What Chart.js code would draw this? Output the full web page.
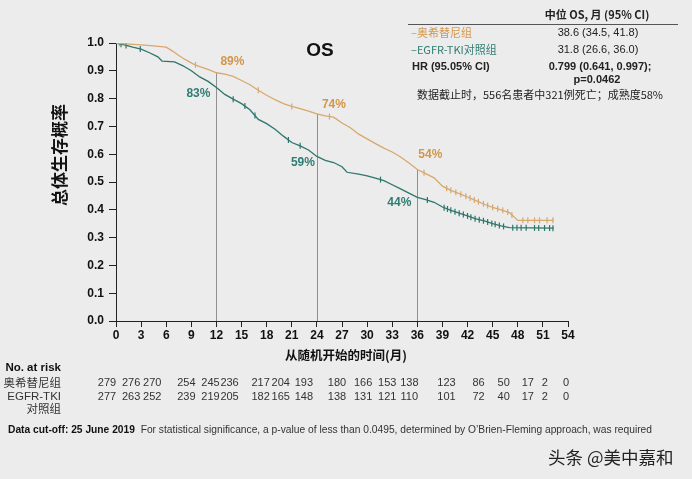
<!DOCTYPE html>
<html><head><meta charset="utf-8">
<script src="https://cdn.jsdelivr.net/npm/chart.js@4"></script>
<style>html,body{margin:0;padding:0;background:#ececec;}canvas{display:block;}</style>
</head><body>
<canvas id="c" width="692" height="479"></canvas>
<script>
// ---------- data ----------
const osiTime = [0, 1.5, 3, 4.5, 6, 6.8, 7.5, 8.3, 9.2, 10, 11, 12, 13, 14, 15, 16, 17, 18, 19, 20, 21, 22, 23, 24, 25, 26, 27, 28, 29, 30, 31, 32, 33, 34, 35, 36, 37, 38, 39, 40, 41, 42, 43, 44, 45, 46, 47, 48, 52.3];
const osiSurv = [1.0, 0.996, 0.993, 0.99, 0.985, 0.97, 0.955, 0.94, 0.925, 0.915, 0.905, 0.893, 0.888, 0.88, 0.865, 0.85, 0.83, 0.812, 0.796, 0.782, 0.772, 0.764, 0.755, 0.745, 0.738, 0.733, 0.712, 0.695, 0.672, 0.655, 0.638, 0.622, 0.608, 0.59, 0.568, 0.545, 0.53, 0.515, 0.485, 0.47, 0.458, 0.446, 0.433, 0.42, 0.409, 0.4, 0.39, 0.362, 0.362];
const ctlTime = [0, 1, 2, 3, 4, 5, 5.5, 7, 8, 9, 10, 11, 12, 13, 14, 15, 16, 17, 18, 19, 20, 21, 22, 23, 24, 25, 26, 27, 27.6, 29, 30, 31, 32, 33, 34, 35, 36, 37, 38, 39, 40, 41, 42, 43, 44, 45, 46, 47, 52.3];
const ctlSurv = [1.0, 0.993, 0.985, 0.978, 0.965, 0.95, 0.935, 0.932, 0.918, 0.9, 0.878, 0.862, 0.84, 0.815, 0.798, 0.782, 0.76, 0.725, 0.71, 0.69, 0.665, 0.642, 0.63, 0.615, 0.592, 0.578, 0.57, 0.555, 0.535, 0.528, 0.522, 0.514, 0.505, 0.49, 0.475, 0.46, 0.445, 0.437, 0.427, 0.41, 0.398, 0.388, 0.378, 0.367, 0.36, 0.35, 0.342, 0.336, 0.334];
const osiCensor = [0.4, 9.5, 17, 21, 25.5, 36.8, 39.5, 40, 40.6, 41.2, 41.8, 42.3, 42.8, 43.3, 43.9, 44.4, 45, 45.6, 46.2, 46.8, 47.3, 48.6, 49.2, 50, 50.6, 51.5, 52.2];
const ctlCensor = [0.6, 1.2, 2.9, 14, 15.4, 16.6, 20.6, 22, 31.6, 37.2, 39.2, 39.6, 40, 40.5, 41, 41.5, 42, 42.4, 42.9, 43.4, 43.9, 44.4, 44.9, 45.3, 45.8, 46.3, 47.4, 47.9, 48.4, 49, 50, 50.5, 51.2, 51.8, 52.2];
const markMonths = [12, 24, 36];
const osiMarkLabels = ['89%', '74%', '54%'];
const ctlMarkLabels = ['83%', '59%', '44%'];
const riskMonths = [0, 3, 6, 9, 12, 15, 18, 21, 24, 27, 30, 33, 36, 39, 42, 45, 48, 51, 54];
const osiRisk = [279, 276, 270, 254, 245, 236, 217, 204, 193, 180, 166, 153, 138, 123, 86, 50, 17, 2, 0];
const ctlRisk = [277, 263, 252, 239, 219, 205, 182, 165, 148, 138, 131, 121, 110, 101, 72, 40, 17, 2, 0];
const groupNames = ['奥希替尼组', 'EGFR-TKI对照组'];
const medianText = ['38.6 (34.5, 41.8)', '31.8 (26.6, 36.0)'];

// ---------- style ----------
const ORANGE = '#d8a86e';
const ORANGE_TXT = '#d4964a';
const TEAL = '#2c766c';
const TEAL_TXT = '#2f7c72';
const SANS = '"Liberation Sans", Arial, sans-serif';
const CJK = '"Noto Sans CJK SC", "Liberation Sans", sans-serif';

function survAt(times, surv, t) {
  let v = surv[0];
  for (let i = 0; i < times.length; i++) { if (times[i] <= t) v = surv[i]; }
  return v;
}
function survLin(times, surv, t) {
  for (let i = 1; i < times.length; i++) {
    if (times[i] >= t) { const f = (t - times[i-1]) / (times[i] - times[i-1]); return surv[i-1] + f * (surv[i] - surv[i-1]); }
  }
  return surv[surv.length - 1];
}
const curve = (T, S) => T.map((t, i) => ({x: t, y: S[i]}));
const censorPts = (C, T, S) => C.map(t => ({x: t, y: survLin(T, S, t)}));

// label offsets (px) relative to reference line / curve point
const osiLabelOff = [[16, -11], [17, -9], [13, -15]];
const ctlLabelOff = [[-18, 6], [-14, 6], [-18, 5]];
const riskDx = [-9, -10, -14, -5, -6, -12, -6, -11, -13, -5, -4, -5, -8, 4, 11, 11, 10, 2, -2];

const decor = {
  id: 'decor',
  beforeDraw(chart) {
    const c = chart.ctx;
    c.save(); c.fillStyle = '#ececec'; c.fillRect(0, 0, chart.width, chart.height); c.restore();
  },
  beforeDatasetsDraw(chart) {
    const c = chart.ctx, xs = chart.scales.x, ys = chart.scales.y;
    c.save();
    c.strokeStyle = '#8f8f8f'; c.lineWidth = 1;
    markMonths.forEach(m => {
      const px = Math.round(xs.getPixelForValue(m)) + 0.5;
      c.beginPath();
      c.moveTo(px, ys.getPixelForValue(survLin(osiTime, osiSurv, m)));
      c.lineTo(px, ys.getPixelForValue(0));
      c.stroke();
    });
    c.restore();
  },
  afterDraw(chart) {
    const c = chart.ctx, xs = chart.scales.x, ys = chart.scales.y;
    c.save();
    c.textBaseline = 'middle';
    // percentage labels
    c.font = 'bold 12px ' + SANS; c.textAlign = 'center';
    markMonths.forEach((m, i) => {
      const px = xs.getPixelForValue(m);
      c.fillStyle = ORANGE_TXT;
      c.fillText(osiMarkLabels[i], px + osiLabelOff[i][0], ys.getPixelForValue(survLin(osiTime, osiSurv, m)) + osiLabelOff[i][1]);
      c.fillStyle = TEAL_TXT;
      c.fillText(ctlMarkLabels[i], px + ctlLabelOff[i][0], ys.getPixelForValue(survLin(ctlTime, ctlSurv, m)) + ctlLabelOff[i][1]);
    });
    // OS title
    c.fillStyle = '#111'; c.font = 'bold 19px ' + SANS;
    c.fillText('OS', 320, 51);
    // y axis title
    c.save(); c.translate(60, 155); c.rotate(-Math.PI / 2);
    c.font = 'bold 17px ' + CJK; c.fillStyle = '#111';
    c.fillText('总体生存概率', 0, 0); c.restore();
    // x axis title
    c.font = 'bold 12.5px ' + CJK; c.fillStyle = '#111';
    c.fillText('从随机开始的时间(月)', 346, 355);
    // number at risk
    c.textAlign = 'right';
    c.font = 'bold 11.5px ' + SANS; c.fillStyle = '#111';
    c.fillText('No. at risk', 61, 368);
    c.font = '11.5px ' + CJK; c.fillStyle = '#333';
    c.fillText('奥希替尼组', 61, 383);
    c.font = '11.5px ' + SANS;
    c.fillText('EGFR-TKI', 61, 397);
    c.font = '11.5px ' + CJK;
    c.fillText('对照组', 61, 409);
    c.textAlign = 'center'; c.font = '11px ' + SANS; c.fillStyle = '#333';
    riskMonths.forEach((m, i) => {
      const px = xs.getPixelForValue(m) + riskDx[i];
      c.fillText(String(osiRisk[i]), px, 383);
      c.fillText(String(ctlRisk[i]), px, 397);
    });
    // footnote
    c.textAlign = 'left';
    const b = 'Data cut-off: 25 June 2019', r = '  For statistical significance, a p-value of less than 0.0495, determined by O\u2019Brien-Fleming approach, was required';
    c.font = 'bold 10.5px ' + SANS; const wb = c.measureText(b).width;
    c.font = '10.5px ' + SANS; const wr = c.measureText(r).width;
    const sx = 644 / (wb + wr);
    c.save(); c.translate(8, 430); c.scale(sx, 1);
    c.fillStyle = '#111'; c.font = 'bold 10.5px ' + SANS; c.fillText(b, 0, 0);
    c.fillStyle = '#333'; c.font = '10.5px ' + SANS; c.fillText(r, wb, 0);
    c.restore();
    // watermark
    c.font = '17.5px ' + CJK; c.fillStyle = '#222';
    c.fillText('头条 @美中嘉和', 548, 457);
    // top-right table
    c.textAlign = 'center'; c.font = 'bold 11px ' + CJK; c.fillStyle = '#222';
    c.fillText('中位 OS, 月 (95% CI)', 597, 15);
    c.strokeStyle = '#555'; c.lineWidth = 1;
    c.beginPath(); c.moveTo(408, 24.5); c.lineTo(678, 24.5); c.stroke();
    c.textAlign = 'left'; c.font = '11px ' + CJK;
    c.fillStyle = ORANGE_TXT; c.fillText('–' + groupNames[0], 411, 33);
    c.fillStyle = TEAL_TXT; c.fillText('–' + groupNames[1], 411, 50);
    c.fillStyle = '#222'; c.textAlign = 'center'; c.font = '11px ' + SANS;
    c.fillText(medianText[0], 598, 33);
    c.fillText(medianText[1], 598, 50);
    c.font = 'bold 11px ' + SANS;
    c.textAlign = 'left'; c.fillText('HR (95.05% CI)', 412, 67);
    c.textAlign = 'center';
    c.fillText('0.799 (0.641, 0.997);', 600, 67);
    c.fillText('p=0.0462', 597, 80);
    c.textAlign = 'left'; c.font = '11px ' + CJK; c.fillStyle = '#222';
    c.fillText('数据截止时，556名患者中321例死亡；成熟度58%', 417, 95);
    c.restore();
  }
};

new Chart(document.getElementById('c'), {
  type: 'line',
  data: {
    datasets: [
      {label: groupNames[0], data: curve(osiTime, osiSurv), tension: 0, borderColor: ORANGE, borderWidth: 1.3, pointRadius: 0, fill: false},
      {label: groupNames[1], data: curve(ctlTime, ctlSurv), tension: 0, borderColor: TEAL, borderWidth: 1.3, pointRadius: 0, fill: false},
      {label: 'c1', data: censorPts(osiCensor, osiTime, osiSurv), showLine: false, pointStyle: 'line', rotation: 90, pointRadius: 3, borderColor: ORANGE, borderWidth: 1.2},
      {label: 'c2', data: censorPts(ctlCensor, ctlTime, ctlSurv), showLine: false, pointStyle: 'line', rotation: 90, pointRadius: 3, borderColor: TEAL, borderWidth: 1.2}
    ]
  },
  options: {
    responsive: false, animation: false, devicePixelRatio: 1,
    layout: {padding: {top: 43, right: 124, left: 0, bottom: 0}},
    plugins: {legend: {display: false}, tooltip: {enabled: false}},
    scales: {
      x: {
        type: 'linear', min: 0, max: 54,
        afterFit: s => { s.height = 158; },
        ticks: {stepSize: 3, color: '#111', font: {family: SANS, size: 12, weight: 'bold'}, padding: 1, maxRotation: 0, autoSkip: false},
        grid: {drawOnChartArea: false, drawTicks: true, tickLength: 6, color: '#222'},
        border: {display: true, color: '#222', width: 1}
      },
      y: {
        min: 0, max: 1,
        afterFit: s => { s.width = 116; },
        ticks: {stepSize: 0.1, color: '#111', font: {family: SANS, size: 12, weight: 'bold'}, padding: 5, callback: v => v.toFixed(1)},
        grid: {drawOnChartArea: false, drawTicks: true, tickLength: 7, color: '#222'},
        border: {display: true, color: '#222', width: 1}
      }
    }
  },
  plugins: [decor]
});
</script>
</body></html>
